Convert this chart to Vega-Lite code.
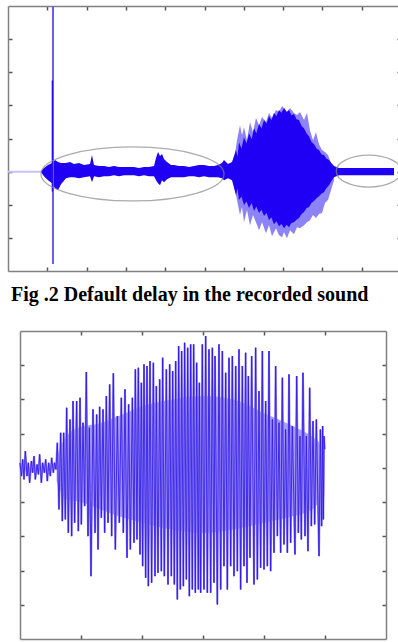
{
  "$schema": "https://vega.github.io/schema/vega-lite/v6.json",
  "background": "white",
  "padding": {"left": 4, "top": 5, "right": 1, "bottom": 4},
  "config": {
    "view": {"stroke": null},
    "axis": {"labels": false, "title": null, "grid": false, "domainColor": "#808080", "domainWidth": 1.5, "tickColor": "#555555", "tickWidth": 1.5, "tickSize": -4}
  },
  "datasets": {
    "topInner": [
      {"x":0.84,"hi":0.02,"lo":-0.02},{"x":0.916,"hi":0.11,"lo":-0.14},{"x":1.018,"hi":0.2,"lo":-0.26},{"x":1.12,"hi":0.26,"lo":-0.35},
      {"x":1.196,"hi":0.35,"lo":-0.5},{"x":1.272,"hi":0.29,"lo":-0.56},{"x":1.349,"hi":0.26,"lo":-0.38},{"x":1.476,"hi":0.26,"lo":-0.2},
      {"x":1.578,"hi":0.29,"lo":-0.17},{"x":1.679,"hi":0.23,"lo":-0.17},{"x":1.807,"hi":0.26,"lo":-0.2},{"x":1.934,"hi":0.2,"lo":-0.17},
      {"x":2.087,"hi":0.23,"lo":-0.14},{"x":2.137,"hi":0.5,"lo":-0.32},{"x":2.188,"hi":0.2,"lo":-0.14},{"x":2.316,"hi":0.17,"lo":-0.17},
      {"x":2.443,"hi":0.17,"lo":-0.14},{"x":2.57,"hi":0.14,"lo":-0.14},{"x":2.697,"hi":0.17,"lo":-0.11},{"x":2.824,"hi":0.14,"lo":-0.14},
      {"x":2.952,"hi":0.14,"lo":-0.11},{"x":3.206,"hi":0.14,"lo":-0.11},{"x":3.333,"hi":0.11,"lo":-0.14},{"x":3.461,"hi":0.14,"lo":-0.11},
      {"x":3.588,"hi":0.14,"lo":-0.14},{"x":3.715,"hi":0.17,"lo":-0.14},{"x":3.766,"hi":0.41,"lo":-0.26},{"x":3.817,"hi":0.59,"lo":-0.35},
      {"x":3.868,"hi":0.47,"lo":-0.41},{"x":3.919,"hi":0.53,"lo":-0.26},{"x":3.969,"hi":0.38,"lo":-0.32},{"x":4.046,"hi":0.29,"lo":-0.23},
      {"x":4.148,"hi":0.2,"lo":-0.17},{"x":4.224,"hi":0.2,"lo":-0.17},{"x":4.351,"hi":0.17,"lo":-0.17},{"x":4.478,"hi":0.17,"lo":-0.17},
      {"x":4.606,"hi":0.14,"lo":-0.14},{"x":4.733,"hi":0.17,"lo":-0.14},{"x":4.86,"hi":0.2,"lo":-0.17},{"x":4.987,"hi":0.2,"lo":-0.14},
      {"x":5.115,"hi":0.17,"lo":-0.17},{"x":5.242,"hi":0.17,"lo":-0.17},{"x":5.344,"hi":0.2,"lo":-0.17},{"x":5.445,"hi":0.26,"lo":-0.2},
      {"x":5.496,"hi":0.35,"lo":-0.26},{"x":5.598,"hi":0.23,"lo":-0.2},{"x":5.7,"hi":0.29,"lo":-0.26},
      {"x":5.802,"hi":0.65,"lo":-0.71},{"x":5.84,"hi":0.45,"lo":-0.5},{"x":5.878,"hi":0.89,"lo":-0.86},{"x":5.94,"hi":0.7,"lo":-0.75},
      {"x":6.005,"hi":1.04,"lo":-1.01},{"x":6.07,"hi":0.85,"lo":-0.9},{"x":6.132,"hi":1.16,"lo":-1.1},{"x":6.2,"hi":0.98,"lo":-0.95},
      {"x":6.26,"hi":1.31,"lo":-1.19},{"x":6.32,"hi":1.15,"lo":-1.05},{"x":6.387,"hi":1.44,"lo":-1.25},{"x":6.45,"hi":1.3,"lo":-1.15},
      {"x":6.514,"hi":1.56,"lo":-1.34},{"x":6.58,"hi":1.45,"lo":-1.25},{"x":6.641,"hi":1.68,"lo":-1.47},{"x":6.7,"hi":1.55,"lo":-1.38},
      {"x":6.768,"hi":1.77,"lo":-1.59},{"x":6.83,"hi":1.68,"lo":-1.5},{"x":6.896,"hi":1.86,"lo":-1.65},{"x":6.96,"hi":1.78,"lo":-1.58},
      {"x":7.023,"hi":1.92,"lo":-1.71},{"x":7.09,"hi":1.8,"lo":-1.6},{"x":7.15,"hi":1.86,"lo":-1.68},{"x":7.21,"hi":1.7,"lo":-1.55},
      {"x":7.277,"hi":1.74,"lo":-1.53},{"x":7.34,"hi":1.58,"lo":-1.45},{"x":7.405,"hi":1.56,"lo":-1.4},{"x":7.47,"hi":1.38,"lo":-1.28},
      {"x":7.532,"hi":1.31,"lo":-1.22},{"x":7.6,"hi":1.15,"lo":-1.1},{"x":7.659,"hi":1.07,"lo":-1.07},{"x":7.72,"hi":0.9,"lo":-0.95},
      {"x":7.786,"hi":0.83,"lo":-0.89},{"x":7.85,"hi":0.7,"lo":-0.8},{"x":7.913,"hi":0.65,"lo":-0.74},{"x":7.98,"hi":0.52,"lo":-0.66},
      {"x":8.041,"hi":0.5,"lo":-0.62},{"x":8.1,"hi":0.4,"lo":-0.5},{"x":8.168,"hi":0.35,"lo":-0.41},{"x":8.23,"hi":0.25,"lo":-0.28},
      {"x":8.295,"hi":0.17,"lo":-0.17},
      {"x":8.422,"hi":0.11,"lo":-0.11},{"x":8.677,"hi":0.11,"lo":-0.11},{"x":9.059,"hi":0.11,"lo":-0.11},{"x":9.44,"hi":0.11,"lo":-0.11},
      {"x":9.822,"hi":0.11,"lo":-0.11}
    ],
    "topOuter": [
      {"x":5.751,"hi":0.35,"lo":-0.41},{"x":5.827,"hi":0.95,"lo":-0.86},{"x":5.903,"hi":1.4,"lo":-1.31},{"x":5.954,"hi":1.1,"lo":-1.07},
      {"x":6.005,"hi":1.34,"lo":-1.53},{"x":6.081,"hi":0.95,"lo":-1.16},{"x":6.158,"hi":1.5,"lo":-1.62},{"x":6.234,"hi":1.19,"lo":-1.31},
      {"x":6.31,"hi":1.62,"lo":-1.53},{"x":6.387,"hi":1.4,"lo":-1.77},{"x":6.463,"hi":1.65,"lo":-1.53},{"x":6.565,"hi":1.5,"lo":-1.86},
      {"x":6.641,"hi":1.77,"lo":-1.62},{"x":6.718,"hi":1.62,"lo":-1.95},{"x":6.819,"hi":1.86,"lo":-1.71},{"x":6.896,"hi":1.8,"lo":-1.92},
      {"x":6.972,"hi":1.98,"lo":-1.98},{"x":7.023,"hi":1.92,"lo":-1.83},{"x":7.099,"hi":1.8,"lo":-2.01},{"x":7.176,"hi":1.92,"lo":-1.77},
      {"x":7.277,"hi":1.77,"lo":-1.89},{"x":7.354,"hi":1.71,"lo":-1.68},{"x":7.43,"hi":1.8,"lo":-1.71},{"x":7.532,"hi":1.56,"lo":-1.62},
      {"x":7.608,"hi":1.77,"lo":-1.53},{"x":7.684,"hi":1.25,"lo":-1.47},{"x":7.761,"hi":0.95,"lo":-1.31},{"x":7.837,"hi":1.19,"lo":-1.4},
      {"x":7.913,"hi":0.83,"lo":-1.28},{"x":7.99,"hi":0.65,"lo":-1.25},{"x":8.066,"hi":0.59,"lo":-0.95},{"x":8.142,"hi":0.5,"lo":-0.86},
      {"x":8.219,"hi":0.26,"lo":-0.56},{"x":8.295,"hi":0.17,"lo":-0.26}
    ],
    "topLead": [{"x":0,"y":0},{"x":0.84,"y":0}],
    "spikeOuter": [{"x":1.145,"lo":-2.79,"hi":5.2}],
    "spikeInner": [{"x":1.13,"lo":-0.6,"hi":2.75}],
    "ellipseL": [{"x":3.168,"y":-0.07}],
    "ellipseR": [{"x":9.18,"y":0.015}],
    "bottomBand": [
      {"x":0.6,"hi":0.3,"lo":-0.4},{"x":0.75,"hi":0.9,"lo":-0.9},{"x":1.0,"hi":1.2,"lo":-1.0},{"x":1.3,"hi":1.3,"lo":-1.2},
      {"x":1.6,"hi":1.5,"lo":-1.4},{"x":2.0,"hi":1.8,"lo":-1.6},{"x":2.5,"hi":2.0,"lo":-1.8},{"x":3.0,"hi":2.1,"lo":-1.9},
      {"x":3.5,"hi":2.0,"lo":-1.8},{"x":4.0,"hi":1.6,"lo":-1.6},{"x":4.5,"hi":1.2,"lo":-1.4},{"x":4.8,"hi":0.9,"lo":-1.2},
      {"x":4.99,"hi":0.6,"lo":-0.8}
    ],
    "bottomWave": [
      {"x":0,"y":0.15},{"x":0.022,"y":-0.24},{"x":0.044,"y":0.248},{"x":0.066,"y":-0.337},{"x":0.087,"y":0.491},{"x":0.115,"y":-0.24},
      {"x":0.137,"y":0.15},{"x":0.158,"y":-0.435},{"x":0.186,"y":0.199},{"x":0.208,"y":-0.142},{"x":0.23,"y":0.345},{"x":0.251,"y":-0.337},
      {"x":0.279,"y":0.101},{"x":0.301,"y":-0.191},{"x":0.322,"y":0.394},{"x":0.35,"y":-0.435},{"x":0.372,"y":0.15},{"x":0.399,"y":-0.142},
      {"x":0.421,"y":0.248},{"x":0.448,"y":-0.386},{"x":0.47,"y":0.15},{"x":0.497,"y":-0.24},{"x":0.519,"y":0.296},{"x":0.546,"y":-0.142},
      {"x":0.568,"y":0.15},{"x":0.59,"y":-0.045},
      {"x":0.612,"y":0.735},{"x":0.639,"y":-1.214},{"x":0.667,"y":1.027},{"x":0.694,"y":-1.556},{"x":0.716,"y":1.027},{"x":0.743,"y":-1.507},
      {"x":0.765,"y":1.758},{"x":0.792,"y":-1.897},{"x":0.82,"y":1.417},{"x":0.847,"y":-1.994},{"x":0.869,"y":1.953},{"x":0.896,"y":-1.604},
      {"x":0.929,"y":1.953},{"x":0.956,"y":-1.848},{"x":0.984,"y":2.051},{"x":1.005,"y":-1.653},{"x":1.033,"y":1.32},{"x":1.06,"y":-1.117},
      {"x":1.087,"y":2.801},{"x":1.115,"y":-1.994},{"x":1.137,"y":1.173},{"x":1.164,"y":-3.164},{"x":1.197,"y":1.71},{"x":1.23,"y":-1.897},
      {"x":1.257,"y":1.563},{"x":1.279,"y":-2.384},{"x":1.306,"y":1.788},{"x":1.333,"y":-1.458},{"x":1.361,"y":1.71},{"x":1.388,"y":-1.897},
      {"x":1.415,"y":2.099},{"x":1.443,"y":-1.604},{"x":1.47,"y":2.44},{"x":1.503,"y":-1.994},{"x":1.53,"y":2.762},{"x":1.563,"y":-2.384},
      {"x":1.596,"y":1.515},{"x":1.628,"y":-1.604},{"x":1.661,"y":2.051},{"x":1.694,"y":-1.897},{"x":1.721,"y":2.294},{"x":1.754,"y":-2.628},
      {"x":1.781,"y":1.856},{"x":1.809,"y":-2.384},{"x":1.842,"y":2.051},{"x":1.869,"y":-2.189},{"x":1.891,"y":2.879},{"x":1.918,"y":-2.092},
      {"x":1.94,"y":2.928},{"x":1.967,"y":-2.53},{"x":1.989,"y":2.489},{"x":2.011,"y":-2.872},{"x":2.033,"y":3.025},{"x":2.06,"y":-3.213},
      {"x":2.082,"y":2.977},{"x":2.104,"y":-3.456},{"x":2.131,"y":3.123},{"x":2.158,"y":-3.359},{"x":2.186,"y":3.074},{"x":2.213,"y":-3.164},
      {"x":2.235,"y":2.392},{"x":2.262,"y":-3.066},{"x":2.29,"y":2.587},{"x":2.317,"y":-3.018},{"x":2.339,"y":3.22},{"x":2.366,"y":-3.164},
      {"x":2.399,"y":2.879},{"x":2.426,"y":-3.408},{"x":2.454,"y":3.025},{"x":2.481,"y":-3.164},{"x":2.503,"y":2.83},{"x":2.53,"y":-3.408},
      {"x":2.552,"y":3.123},{"x":2.579,"y":-3.846},{"x":2.601,"y":3.561},{"x":2.628,"y":-3.554},{"x":2.65,"y":3.415},{"x":2.678,"y":-3.456},
      {"x":2.699,"y":3.659},{"x":2.727,"y":-3.261},{"x":2.749,"y":3.512},{"x":2.776,"y":-3.749},{"x":2.798,"y":3.61},{"x":2.825,"y":-3.554},
      {"x":2.847,"y":3.61},{"x":2.874,"y":-3.651},{"x":2.896,"y":3.074},{"x":2.923,"y":-3.554},
      {"x":2.94,"y":2.489},{"x":2.962,"y":-3.651},{"x":2.989,"y":3.61},{"x":3.016,"y":-3.554},{"x":3.044,"y":3.854},{"x":3.071,"y":-3.651},
      {"x":3.098,"y":3.464},{"x":3.126,"y":-3.651},{"x":3.153,"y":3.512},{"x":3.18,"y":-3.359},{"x":3.197,"y":3.269},{"x":3.235,"y":-3.992},
      {"x":3.262,"y":3.61},{"x":3.29,"y":-3.554},{"x":3.317,"y":3.415},{"x":3.344,"y":-2.872},{"x":3.372,"y":2.782},{"x":3.399,"y":-3.554},
      {"x":3.426,"y":3.22},{"x":3.454,"y":-2.872},{"x":3.481,"y":3.269},{"x":3.508,"y":-3.164},{"x":3.536,"y":2.977},{"x":3.563,"y":-3.018},
      {"x":3.59,"y":3.464},{"x":3.617,"y":-3.554},{"x":3.645,"y":2.977},{"x":3.672,"y":-2.872},{"x":3.699,"y":3.366},{"x":3.721,"y":-3.359},
      {"x":3.743,"y":2.684},{"x":3.77,"y":-2.628},{"x":3.798,"y":3.269},{"x":3.836,"y":-3.408},{"x":3.863,"y":3.512},{"x":3.891,"y":-3.261},
      {"x":3.918,"y":2.245},{"x":3.945,"y":-2.92},{"x":3.973,"y":3.415},{"x":4.0,"y":-2.969},{"x":4.027,"y":1.953},{"x":4.055,"y":-2.872},
      {"x":4.082,"y":3.415},{"x":4.109,"y":-3.018},{"x":4.137,"y":1.417},{"x":4.164,"y":-2.482},{"x":4.191,"y":2.977},{"x":4.219,"y":-1.994},
      {"x":4.246,"y":1.32},{"x":4.273,"y":-2.482},{"x":4.301,"y":2.635},{"x":4.328,"y":-2.238},{"x":4.355,"y":1.125},{"x":4.383,"y":-2.482},
      {"x":4.41,"y":2.733},{"x":4.437,"y":-2.189},{"x":4.464,"y":1.222},{"x":4.508,"y":-2.53},{"x":4.536,"y":2.684},{"x":4.563,"y":-1.897},
      {"x":4.59,"y":0.93},{"x":4.612,"y":-2.092},{"x":4.639,"y":2.782},{"x":4.672,"y":-1.994},{"x":4.694,"y":0.93},{"x":4.721,"y":-2.433},
      {"x":4.749,"y":2.343},{"x":4.776,"y":-1.702},{"x":4.803,"y":1.368},{"x":4.831,"y":-1.653},{"x":4.858,"y":1.417},{"x":4.902,"y":-2.579},
      {"x":4.924,"y":1.125},{"x":4.945,"y":-1.702},{"x":4.962,"y":1.222},{"x":4.973,"y":-1.507},{"x":4.984,"y":0.93},{"x":4.995,"y":0.54}
    ]
  },
  "vconcat": [
    {
      "width": 393,
      "height": 265,
      "layer": [
        {
          "data": {"name": "topOuter"},
          "mark": {"type": "area", "color": "#8c84f6"},
          "encoding": {
            "x": {"field": "x", "type": "quantitative", "scale": {"domain": [0, 10], "nice": false, "zero": false}, "axis": {"orient": "bottom", "values": [1,2,3,4,5,6,7,8,9]}},
            "y": {"field": "hi", "type": "quantitative", "scale": {"domain": [-3, 5], "nice": false, "zero": false}, "axis": {"orient": "left", "values": [-2,-1,0,1,2,3,4]}},
            "y2": {"field": "lo"}
          }
        },
        {
          "data": {"name": "topInner"},
          "mark": {"type": "area", "color": "#2000f5"},
          "encoding": {
            "x": {"field": "x", "type": "quantitative", "axis": {"orient": "top", "values": [1,2,3,4,5,6,7,8,9]}},
            "y": {"field": "hi", "type": "quantitative", "axis": {"orient": "right", "values": [-2,-1,0,1,2,3,4]}},
            "y2": {"field": "lo"}
          }
        },
        {
          "data": {"name": "topLead"},
          "mark": {"type": "line", "color": "#c6c2ff", "strokeWidth": 2},
          "encoding": {
            "x": {"field": "x", "type": "quantitative", "axis": null},
            "y": {"field": "y", "type": "quantitative", "axis": null}
          }
        },
        {
          "data": {"name": "spikeOuter"},
          "mark": {"type": "rule", "color": "#6b5ef2", "strokeWidth": 2, "clip": true},
          "encoding": {
            "x": {"field": "x", "type": "quantitative", "axis": null},
            "y": {"field": "lo", "type": "quantitative", "axis": null},
            "y2": {"field": "hi"}
          }
        },
        {
          "data": {"name": "spikeInner"},
          "mark": {"type": "rule", "color": "#2a12f0", "strokeWidth": 1.5},
          "encoding": {
            "x": {"field": "x", "type": "quantitative", "axis": null},
            "y": {"field": "lo", "type": "quantitative", "axis": null},
            "y2": {"field": "hi"}
          }
        },
        {
          "data": {"name": "ellipseL"},
          "mark": {"type": "point", "filled": false, "stroke": "#8a8a8a", "strokeWidth": 1.3, "size": 33489, "shape": "M -1 0 C -1 -0.163 -0.552 -0.295 0 -0.295 C 0.552 -0.295 1 -0.163 1 0 C 1 0.163 0.552 0.295 0 0.295 C -0.552 0.295 -1 0.163 -1 0 Z"},
          "encoding": {
            "x": {"field": "x", "type": "quantitative", "axis": null},
            "y": {"field": "y", "type": "quantitative", "axis": null}
          }
        },
        {
          "data": {"name": "ellipseR"},
          "mark": {"type": "point", "filled": false, "stroke": "#8a8a8a", "strokeWidth": 1.3, "size": 4225, "shape": "M -1 0 C -1 -0.271 -0.552 -0.49 0 -0.49 C 0.552 -0.49 1 -0.271 1 0 C 1 0.271 0.552 0.49 0 0.49 C -0.552 0.49 -1 0.271 -1 0 Z"},
          "encoding": {
            "x": {"field": "x", "type": "quantitative", "axis": null},
            "y": {"field": "y", "type": "quantitative", "axis": null}
          }
        }
      ],
      "resolve": {"axis": {"x": "independent", "y": "independent"}}
    },
    {
      "hconcat": [
        {
          "width": 12,
          "height": 308,
          "data": {"values": [{"x": 0}]},
          "mark": {"type": "point", "opacity": 0},
          "encoding": {}
        },
        {
          "width": 366,
          "height": 308,
          "title": {"text": "Fig .2 Default delay in the recorded sound", "anchor": "start", "frame": "group", "dx": -9, "offset": 25, "font": "'Liberation Serif', 'DejaVu Serif', serif", "fontSize": 20, "fontWeight": "bold", "color": "#000000"},
          "layer": [
            {
              "data": {"name": "bottomBand"},
              "mark": {"type": "area", "color": "#a69cf6", "interpolate": "monotone"},
              "encoding": {
                "x": {"field": "x", "type": "quantitative", "scale": {"domain": [0, 6], "nice": false, "zero": false}, "axis": {"orient": "bottom", "values": [1,2,3,4,5]}},
                "y": {"field": "hi", "type": "quantitative", "scale": {"domain": [-5, 4], "nice": false, "zero": false}, "axis": {"orient": "left", "values": [-4,-3,-2,-1,0,1,2,3]}},
                "y2": {"field": "lo"}
              }
            },
            {
              "data": {"name": "bottomWave"},
              "mark": {"type": "line", "color": "#9488f3", "strokeWidth": 2},
              "encoding": {
                "x": {"field": "x", "type": "quantitative", "axis": {"orient": "top", "values": [1,2,3,4,5]}},
                "y": {"field": "y", "type": "quantitative", "axis": {"orient": "right", "values": [-4,-3,-2,-1,0,1,2,3]}}
              }
            },
            {
              "data": {"name": "bottomWave"},
              "mark": {"type": "line", "color": "#2a10e6", "strokeWidth": 0.9, "opacity": 0.85},
              "encoding": {
                "x": {"field": "x", "type": "quantitative", "axis": null},
                "y": {"field": "y", "type": "quantitative", "axis": null}
              }
            }
          ],
          "resolve": {"axis": {"x": "independent", "y": "independent"}}
        }
      ],
      "spacing": 0,
      "bounds": "flush"
    }
  ],
  "spacing": 60,
  "bounds": "flush"
}
